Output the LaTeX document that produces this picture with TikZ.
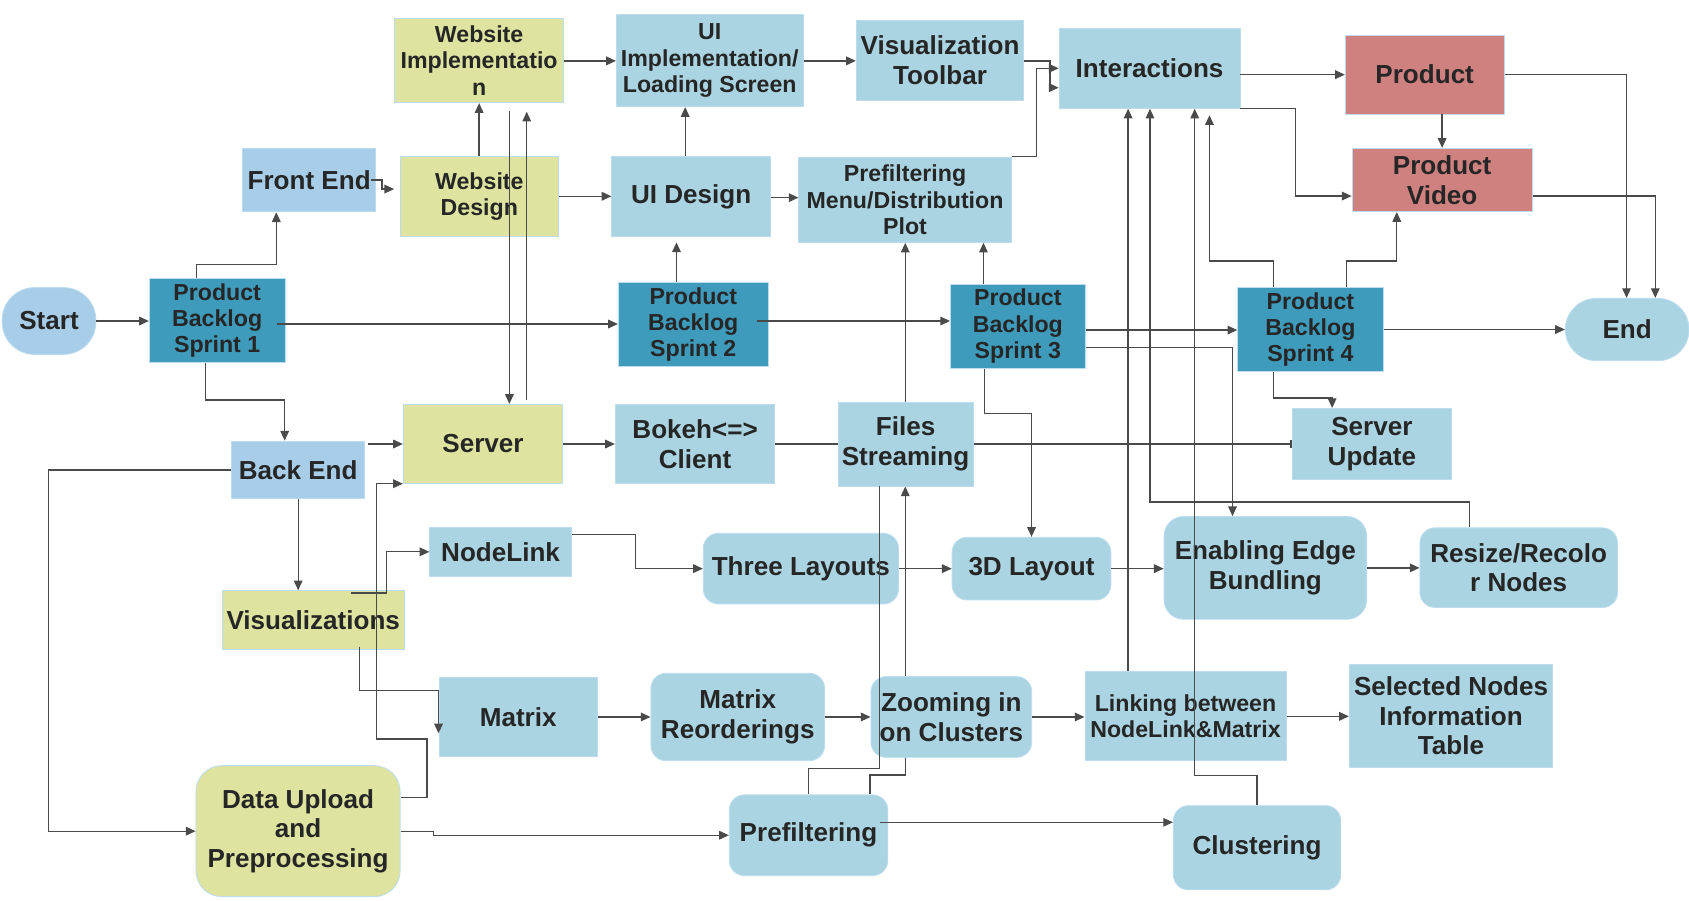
\documentclass[tikz,border=0pt]{standalone}
\usepackage{fontspec}
\setmainfont{Liberation Sans}
\usetikzlibrary{arrows.meta,calc,backgrounds}
\definecolor{bxblue}{HTML}{AAD4E2}
\definecolor{skyb}{HTML}{A8CDE8}
\definecolor{tealb}{HTML}{3E9BBC}
\definecolor{ylw}{HTML}{DFE3A0}
\definecolor{rd}{HTML}{CF8180}
\definecolor{bord}{HTML}{BCDDF0}
\definecolor{lnc}{HTML}{4A4A4A}
\definecolor{txt}{HTML}{262626}
\newcommand{\fbig}{\fontsize{24.2pt}{27.6pt}\selectfont\bfseries}
\newcommand{\fsmall}{\fontsize{21.5pt}{24.4pt}\selectfont\bfseries}
\tikzset{
  box/.style={draw=bord, line width=0.8pt, inner sep=0pt, align=center, text=txt, font=\fbig},
  rbox/.style={box, rounded corners=14pt},
  sprint/.style={box, fill=tealb, font=\fsmall},
  plain/.style={draw=lnc, line width=1.2pt},
  arr/.style={plain, -{Triangle[length=9pt,width=8pt]}},
}
\begin{document}
\begin{tikzpicture}[x=1pt,y=-1pt]
\useasboundingbox (0,0) rectangle (1568,836);
% nodes
\node[box,fill=skyb,rounded corners=30pt,minimum width=87pt,minimum height=62pt] (start) at (45.5,298) {Start};
\node[sprint,minimum width=126pt,minimum height=78pt] (sp1) at (201.6,297.5) {Product\\Backlog\\Sprint 1};
\node[box,fill=skyb,minimum width=123.7pt,minimum height=59pt] (fe) at (287,167.2) {Front End};
\node[box,fill=ylw,font=\fsmall,minimum width=147.4pt,minimum height=73.7pt] (wd) at (445,182.2) {Website\\Design};
\node[box,fill=ylw,font=\fsmall,minimum width=157pt,minimum height=78.3pt] (wi) at (444.8,56.2) {Website\\Implementatio\\n};
\node[box,fill=bxblue,font=\fsmall,minimum width=173.4pt,minimum height=85.4pt] (uii) at (658.9,56.3) {UI\\Implementation/\\Loading Screen};
\node[box,fill=bxblue,minimum width=155.5pt,minimum height=73.6pt] (vt) at (872.7,56) {Visualization\\Toolbar};
\node[box,fill=bxblue,minimum width=168pt,minimum height=73.7pt] (inter) at (1067.2,63.7) {Interactions};
\node[box,fill=rd,minimum width=147.4pt,minimum height=73.3pt] (prod) at (1322.6,69.2) {Product};
\node[box,fill=rd,minimum width=167.3pt,minimum height=58.8pt] (pv) at (1338.8,167.1) {Product\\Video};
\node[box,fill=bxblue,minimum width=147.4pt,minimum height=74.3pt] (uid) at (641.7,182.5) {UI Design};
\node[box,fill=bxblue,font=\fsmall,minimum width=197.1pt,minimum height=79pt] (pm) at (840.2,185.5) {Prefiltering\\Menu/Distribution\\Plot};
\node[sprint,minimum width=139.2pt,minimum height=78pt] (sp2) at (643.6,301.4) {Product\\Backlog\\Sprint 2};
\node[sprint,minimum width=125pt,minimum height=78.2pt] (sp3) at (944.9,302.8) {Product\\Backlog\\Sprint 3};
\node[sprint,minimum width=135pt,minimum height=78.4pt] (sp4) at (1216.5,305.9) {Product\\Backlog\\Sprint 4};
\node[box,fill=bxblue,rounded corners=28.9pt,minimum width=114.8pt,minimum height=57.8pt] (end) at (1510.6,305.9) {End};
\node[box,fill=skyb,minimum width=123.4pt,minimum height=53.6pt] (be) at (276.8,436.2) {Back End};
\node[box,fill=ylw,minimum width=148pt,minimum height=73.3pt] (srv) at (448.4,412) {Server};
\node[box,fill=bxblue,minimum width=148.2pt,minimum height=73.9pt] (bok) at (645.3,412.3) {Bokeh<=>\\Client};
\node[box,fill=bxblue,minimum width=125.4pt,minimum height=77.7pt] (fs) at (840.7,412.3) {Files\\Streaming};
\node[box,fill=bxblue,minimum width=148.4pt,minimum height=65.7pt] (su) at (1273.6,412) {Server\\Update};
\node[box,fill=bxblue,minimum width=131.4pt,minimum height=46.2pt] (nl) at (464.7,512.3) {NodeLink};
\node[rbox,fill=bxblue,minimum width=181.2pt,minimum height=65.6pt] (tl) at (743.5,527.9) {Three Layouts};
\node[rbox,fill=bxblue,minimum width=147.4pt,minimum height=58.2pt] (d3) at (957.6,527.9) {3D Layout};
\node[rbox,fill=bxblue,rounded corners=18pt,minimum width=188pt,minimum height=95.3pt] (eb) at (1174.7,527.2) {Enabling Edge\\Bundling};
\node[rbox,fill=bxblue,minimum width=183.4pt,minimum height=73.9pt] (rr) at (1409.9,527) {Resize/Recolo\\r Nodes};
\node[box,fill=ylw,minimum width=168.9pt,minimum height=54.4pt] (vis) at (290.8,575.6) {Visualizations};
\node[box,fill=bxblue,minimum width=147.2pt,minimum height=73.7pt] (mat) at (481.1,665.6) {Matrix};
\node[rbox,fill=bxblue,minimum width=161.2pt,minimum height=81.1pt] (mr) at (684.9,665.6) {Matrix\\Reorderings};
\node[rbox,fill=bxblue,minimum width=149.2pt,minimum height=74.9pt] (zc) at (883.2,665.6) {Zooming in\\on Clusters};
\node[box,fill=bxblue,font=\fsmall,minimum width=186.8pt,minimum height=82pt] (lk) at (1100.6,664.6) {Linking between\\NodeLink\&Matrix};
\node[box,fill=bxblue,minimum width=188.9pt,minimum height=95.1pt] (sn) at (1347.1,664.5) {Selected Nodes\\Information\\Table};
\node[rbox,fill=ylw,rounded corners=24pt,minimum width=189.5pt,minimum height=121.6pt] (du) at (276.7,771.6) {Data Upload\\and\\Preprocessing};
\node[rbox,fill=bxblue,minimum width=147.1pt,minimum height=74.9pt] (pf) at (750.6,775.4) {Prefiltering};
\node[rbox,fill=bxblue,minimum width=155.4pt,minimum height=78.1pt] (cl) at (1167,787) {Clustering};
% connectors behind boxes
\begin{pgfonlayer}{background}
\fill[white] (0,0) rectangle (1568,836);
\draw[plain,-{Bar[width=8pt]}] (bok.east |- 0,412.2) -- (su.west |- 0,412.2);
\draw[arr] (pf.north -| 807.7,0) |- (840.4,719.5) -- (fs.south -| 840.4,0);
\end{pgfonlayer}
% connectors
\draw[arr] (start.east) -- (sp1.west |- start.east);
\draw[arr] (sp1.north -| 182.3,0) |- (256.5,245.4) -- (fe.south -| 256.5,0);
\draw[arr,shorten >=5pt] ($(fe.east)+(-5,0)$) -- (354.6,167.2) |- (wd.west |- 0,175.5);
\draw[arr] (wd.north -| 444.8,0) -- (wi.south -| 444.8,0);
\draw[arr] (wi.east |- 0,56.5) -- (uii.west |- 0,56.5);
\draw[arr] (wd.east |- 0,182.2) -- (uid.west |- 0,182.2);
\draw[arr] (uid.north -| 636.1,0) -- (uii.south -| 636.1,0);
\draw[arr] (uid.east |- 0,183.5) -- (pm.west |- 0,183.5);
\draw[arr] (uii.east |- 0,56.5) -- (vt.west |- 0,56.5);
\draw[arr] (vt.east |- 0,56.5) -| (974.7,81.4) -- (inter.west |- 0,81.4);
\draw[arr] (pm.north east) -| (962.4,63.4) -- (inter.west |- 0,63.4);
\draw[arr] (inter.east |- 0,69.3) -- (prod.west |- 0,69.3);
\draw[arr] (inter.south east) -| (1203,182) -- (pv.west |- 0,182);
\draw[arr] (prod.east) -| (end.north -| 1510,0);
\draw[arr] (prod.south -| pv.north) -- (pv.north);
\draw[arr] (pv.east |- 0,182) -| (end.north -| 1536.7,0);
\draw[arr] (sp4.north -| 1250,0) |- (1296.7,242.3) -- (pv.south -| 1296.7,0);
\draw[arr,shorten >=6pt] (sp4.north -| 1182.5,0) |- (1122.8,242.3) -- (inter.south -| 1122.8,0);
\draw[arr] ($(sp1.east |- 0,300.8)+(-8,0)$) -- (sp2.west |- 0,300.8);
\draw[arr,shorten >=5pt] (sp2.north -| 628,0) -- (uid.south -| 628,0);
\draw[arr] ($(sp2.east |- 0,298)+(-11,0)$) -- (sp3.west |- 0,298);
\draw[arr] (sp3.north -| 913,0) -- (pm.south -| 913,0);
\draw[arr] (fs.north -| 840.4,0) -- (pm.south -| 840.4,0);
\draw[arr] (sp3.east |- 0,306.4) -- (sp4.west |- 0,306.4);
\draw[arr] (sp3.east |- 0,322.4) -| (eb.north -| 1144.2,0);
\draw[arr] (sp4.east) -- (end.west);
\draw[arr] (sp4.south -| 1182.5,0) |- (1236.7,369.4) -- (su.north -| 1236.7,0);
\draw[arr] (sp3.south -| 914,0) |- (957.6,383.7) -- (d3.north);
\draw[arr] (srv.east |- 0,412.2) -- (bok.west |- 0,412.2);
\draw[arr] ($(be.east |- 0,412.2)+(3,0)$) -- (srv.west |- 0,412.2);
\draw[arr] (sp1.south -| 190.9,0) |- (264.3,371.3) -- (be.north -| 264.3,0);
\draw[arr] (be.west) -| (44.8,771.6) -- (du.west);
\draw[arr] (be.south) -- (be.south |- vis.north);
\draw[arr] ($(vis.north -| 326,0)+(0,2.4)$) -| (358.6,512.3) -- (nl.west);
\draw[arr] ($(vis.south -| 334,0)+(0,-2.8)$) |- (mat.west |- 0,641.2) -- (mat.west |- 0,680.8);
\draw[arr] (nl.east |- 0,496) -| (589.7,527.9) -- (tl.west);
\draw[arr] (tl.east) -- (d3.west);
\draw[arr] (d3.east) -- (eb.west |- d3.east);
\draw[arr] (eb.east) -- (rr.west |- eb.east);
\draw[arr] (rr.north -| 1364.4,0) |- (1067.6,466) -- (inter.south -| 1067.6,0);
\draw[arr] (lk.north -| 1047.3,0) -- (inter.south -| 1047.3,0);
\draw[arr] (cl.north) |- (1109.1,720) -- (inter.south -| 1109.1,0);
\draw[arr] ($(wi.south -| 472.9,0)+(0,7)$) -- (srv.north -| 472.9,0);
\draw[arr,shorten >=8pt] ($(srv.north -| 489,0)+(0,-4)$) -- (wi.south -| 489,0);
\draw[arr] (du.east |- 0,740.5) -| (396.4,686) -- (349.8,686) |- (srv.south west);
\draw[arr] (du.east) -- (402.7,771.6) |- (pf.west);
\draw[arr] (mat.east) -- (mr.west);
\draw[arr] (mr.east) -- (zc.west);
\draw[arr] (zc.east) -- (lk.west |- zc.east);
\draw[arr] (lk.east |- 0,665) -- (sn.west |- 0,665);
\draw[arr] ($(pf.east |- 0,763.4)+(-8,0)$) -- (cl.west |- 0,763.4);
\draw[plain] (fs.south -| 816.3,0) |- (750.4,713.3) -- (pf.north -| 750.4,0);
\end{tikzpicture}
\end{document}
